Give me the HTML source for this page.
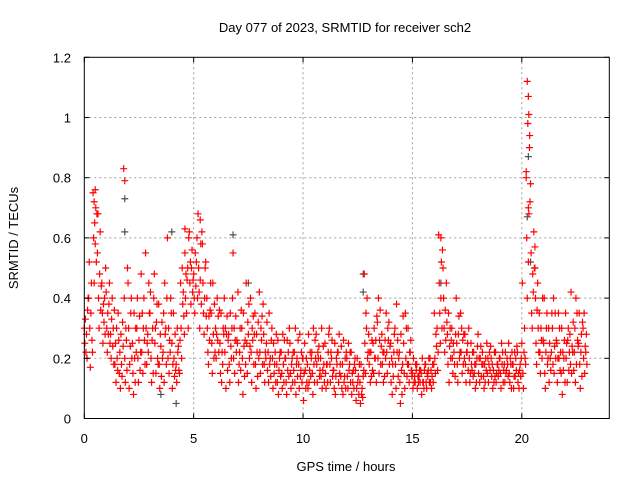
<!DOCTYPE html>
<html><head><meta charset="utf-8"><style>
body{margin:0;background:#fff;}
svg{display:block;font-family:"Liberation Sans",sans-serif;}
</style></head><body>
<svg id="chart" width="640" height="480" viewBox="0 0 640 480">
<rect width="640" height="480" fill="#fff"/>
<text x="345" y="32" font-size="13" text-anchor="middle">Day 077 of 2023, SRMTID for receiver sch2</text>
<text transform="translate(18,238) rotate(-90)" font-size="13" text-anchor="middle">SRMTID / TECUs</text>
<text x="346" y="471" font-size="13" text-anchor="middle">GPS time / hours</text>
<g id="grid"></g><g id="marks"></g><g id="axes"></g>
</svg>
<script>
const xTicks=[0,5,10,15,20];
const yTicks=[0,0.2,0.4,0.6,0.8,1,1.2];
const yTickLabels=["0","0.2","0.4","0.6","0.8","1","1.2"];
const hours=[0,0.2,0.4,0.6,0.8,1,1.2,1.4,1.6,1.8,2,2.2,2.4,2.6,2.8,3,3.2,3.4,3.6,3.8,4,4.2,4.4,4.6,4.8,5,5.2,5.4,5.6,5.8,6,6.2,6.4,6.6,6.8,7,7.2,7.4,7.6,7.8,8,8.2,8.4,8.6,8.8,9,9.2,9.4,9.6,9.8,10,10.2,10.4,10.6,10.8,11,11.2,11.4,11.6,11.8,12,12.2,12.4,12.6,12.8,13,13.2,13.4,13.6,13.8,14,14.2,14.4,14.6,14.8,15,15.2,15.4,15.6,15.8,16,16.2,16.4,16.6,16.8,17,17.2,17.4,17.6,17.8,18,18.2,18.4,18.6,18.8,19,19.2,19.4,19.6,19.8,20,20.2,20.4,20.6,20.8,21,21.2,21.4,21.6,21.8,22,22.2,22.4,22.6,22.8];
const tecA=[.30,.40,.75,.55,.45,.42,.28,.18,.15,.83,.45,.25,.30,.48,.55,.35,.48,.38,.22,.60,.25,.18,.45,.55,.62,.48,.68,.58,.40,.35,.30,.25,.40,.28,.55,.25,.30,.45,.40,.35,.42,.28,.22,.20,.18,.22,.20,.25,.22,.18,.20,.18,.22,.28,.20,.25,.30,.16,.22,.18,.20,.22,.16,.12,.48,.28,.25,.32,.28,.35,.25,.30,.22,.25,.30,.15,.18,.15,.18,.20,.35,.61,.50,.28,.30,.40,.35,.28,.20,.22,.28,.22,.25,.20,.22,.20,.18,.25,.18,.22,.25,.80,.78,.50,.35,.25,.20,.30,.25,.15,.35,.28,.22,.25,.30];
const tecB=[.25,.52,.60,.68,.35,.30,.20,.25,.22,.40,.30,.15,.40,.22,.30,.42,.25,.18,.35,.20,.10,.12,.30,.40,.45,.40,.50,.45,.30,.25,.20,.15,.22,.18,.20,.42,.20,.25,.22,.18,.22,.18,.12,.10,.12,.15,.12,.15,.12,.10,.06,.10,.15,.18,.14,.15,.18,.10,.12,.08,.14,.08,.06,.05,.25,.18,.15,.20,.18,.22,.12,.18,.12,.15,.18,.10,.10,.08,.12,.12,.20,.45,.40,.18,.20,.25,.22,.18,.12,.15,.15,.18,.15,.14,.12,.15,.12,.15,.10,.12,.45,.60,.55,.40,.22,.40,.30,.18,.12,.30,.20,.18,.30,.35,.20];
const tecC=[.33,.30,.45,.40,.25,.22,.33,.12,.10,.20,.10,.08,.20,.35,.18,.20,.30,.10,.12,.30,.18,.30,.20,.48,.52,.35,.42,.35,.22,.15,.28,.35,.30,.12,.30,.12,.08,.15,.12,.10,.15,.12,.35,.25,.26,.10,.08,.10,.30,.28,.15,.28,.08,.12,.30,.10,.12,.25,.28,.26,.10,.15,.10,.18,.15,.22,.30,.40,.22,.15,.20,.10,.05,.10,.12,.20,.14,.20,.10,.16,.15,.35,.30,.35,.15,.18,.30,.12,.15,.18,.20,.14,.20,.18,.15,.10,.22,.12,.14,.15,.15,.40,.35,.25,.15,.15,.12,.40,.20,.08,.25,.42,.12,.18,.35];
const tecD=[.22,.17,.65,.30,.38,.35,.40,.30,.28,.12,.18,.35,.12,.15,.25,.12,.15,.28,.45,.15,.35,.22,.50,.35,.38,.55,.30,.28,.18,.45,.40,.12,.10,.35,.15,.18,.35,.32,.30,.28,.30,.22,.18,.15,.08,.28,.26,.18,.08,.14,.25,.12,.30,.22,.10,.18,.22,.08,.15,.12,.25,.12,.20,.08,.35,.12,.20,.15,.12,.30,.08,.38,.28,.35,.22,.12,.12,.12,.15,.10,.28,.25,.22,.12,.25,.12,.15,.22,.25,.10,.12,.10,.12,.10,.18,.25,.15,.20,.22,.10,.10,.98,.30,.18,.30,.10,.25,.15,.35,.22,.12,.15,.40,.10,.15];
const tecE=[.28,.35,.58,.48,.32,.28,.24,.20,.18,.30,.24,.20,.26,.30,.28,.26,.32,.24,.28,.26,.20,.24,.38,.46,.50,.44,.46,.40,.34,.28,.26,.22,.28,.24,.26,.22,.24,.28,.26,.22,.26,.20,.20,.18,.16,.18,.16,.20,.18,.16,.16,.16,.18,.20,.16,.18,.20,.14,.18,.14,.16,.16,.12,.10,.30,.22,.20,.26,.22,.26,.18,.22,.16,.20,.22,.14,.14,.12,.14,.14,.24,.40,.36,.24,.22,.28,.26,.22,.18,.18,.20,.18,.18,.16,.18,.18,.16,.18,.14,.16,.22,.52,.48,.36,.26,.22,.20,.24,.20,.16,.26,.24,.18,.22,.24];
const tecF=[.20,.45,.70,.62,.40,.38,.30,.16,.14,.26,.35,.12,.34,.40,.22,.30,.38,.14,.30,.22,.14,.16,.42,.50,.56,.52,.58,.50,.26,.20,.34,.18,.34,.20,.34,.30,.14,.38,.34,.14,.34,.25,.14,.22,.20,.12,.22,.12,.20,.22,.10,.22,.12,.24,.24,.12,.26,.20,.14,.20,.18,.10,.14,.07,.40,.14,.26,.36,.14,.32,.14,.26,.08,.30,.26,.12,.16,.10,.16,.18,.30,.52,.26,.30,.18,.34,.18,.25,.16,.12,.24,.12,.22,.12,.14,.22,.20,.10,.20,.18,.30,.68,.42,.45,.20,.30,.16,.35,.30,.20,.30,.22,.35,.28,.22];
const tecG=[.36,.26,.52,.36,.28,.45,.18,.35,.32,.16,.40,.30,.16,.26,.45,.15,.20,.32,.18,.40,.28,.15,.34,.30,.42,.60,.38,.52,.36,.38,.22,.30,.16,.30,.22,.16,.26,.20,.18,.32,.18,.32,.26,.12,.22,.26,.14,.22,.14,.12,.20,.14,.26,.14,.18,.22,.14,.18,.24,.10,.22,.18,.08,.14,.20,.26,.12,.18,.26,.18,.22,.14,.18,.14,.16,.18,.12,.16,.20,.12,.16,.30,.45,.20,.14,.20,.28,.16,.22,.20,.14,.20,.16,.22,.16,.12,.18,.22,.16,.14,.20,.90,.62,.30,.40,.35,.22,.20,.16,.26,.16,.32,.26,.14,.28];
const tecH=[.40,.22,.68,.44,.50,.25,.36,.26,.24,.50,.20,.22,.22,.18,.35,.40,.18,.20,.40,.35,.16,.26,.28,.60,.46,.40,.62,.34,.45,.22,.36,.28,.26,.40,.26,.36,.18,.24,.28,.20,.38,.16,.30,.28,.14,.20,.30,.16,.26,.20,.12,.20,.20,.16,.12,.28,.16,.22,.10,.22,.12,.20,.18,.16,.22,.16,.34,.24,.20,.24,.28,.20,.34,.18,.14,.16,.16,.18,.12,.18,.22,.56,.32,.26,.28,.22,.20,.30,.14,.24,.18,.16,.24,.14,.20,.16,.14,.18,.24,.20,.18,.72,.50,.22,.26,.18,.35,.26,.22,.12,.22,.16,.24,.32,.18];
const extraHours=[20.25,20.3,20.32,20.36,0.5,1.85,20.3,5.3,4.6,16.3,20.6,0.45,20.2];
const extraTec=[1.12,1.07,1.01,0.94,0.76,0.79,0.70,0.66,0.63,0.60,0.57,0.72,0.82];
const refHours=[1.85,1.85,20.3,20.25,6.8,4.0,12.75,12.75,16.3,4.2,3.5,20.4,7.5];
const refTec=[0.73,0.62,0.87,0.67,0.61,0.62,0.48,0.42,0.45,0.05,0.08,0.52,0.45];

const X0=84.3,X1=609.3,Y0=418.5,Y1=57.3;
const xs=h=>X0+(h/24)*(X1-X0);
const ys=v=>Y0-(v/1.2)*(Y0-Y1);
const NS="http://www.w3.org/2000/svg";
function mk(tag,attrs,parent){const e=document.createElementNS(NS,tag);for(const k in attrs)e.setAttribute(k,attrs[k]);parent.appendChild(e);return e;}
const grid=document.getElementById('grid'),marks=document.getElementById('marks'),axes=document.getElementById('axes');
xTicks.forEach(t=>{
  if(t>0){const g=mk('line',{x1:xs(t),x2:xs(t),y1:Y1,y2:Y0,stroke:'#a0a0a0','stroke-dasharray':'2,3'},grid);
  
  }
  const l=mk('text',{x:xs(t),y:443,'font-size':13,'text-anchor':'middle'},axes);l.textContent=String(t);
  
  
  mk('line',{x1:xs(t),x2:xs(t),y1:Y0,y2:Y0-5,stroke:'#000'},axes);
  mk('line',{x1:xs(t),x2:xs(t),y1:Y1,y2:Y1+5,stroke:'#000'},axes);
});
yTicks.forEach((t,i)=>{
  if(t>0&&t<1.2){const g=mk('line',{x1:X0,x2:X1,y1:ys(t),y2:ys(t),stroke:'#a0a0a0','stroke-dasharray':'2,3'},grid);
  
  }
  const l=mk('text',{x:71,y:ys(t)+5,'font-size':13,'text-anchor':'end'},axes);l.textContent=yTickLabels[i];
  
  
  mk('line',{x1:X0,x2:X0+5,y1:ys(t),y2:ys(t),stroke:'#000'},axes);
  mk('line',{x1:X1,x2:X1-5,y1:ys(t),y2:ys(t),stroke:'#000'},axes);
});
const border=mk('rect',{x:X0,y:Y1,width:X1-X0,height:Y0-Y1,fill:'none',stroke:'#000'},axes);


function cross(h,v,color,name){
  const x=xs(h),y=ys(v);
  const p=mk('path',{d:`M${x-3.5},${y}H${x+3.5}M${x},${y-3.5}V${y+3.5}`,stroke:color,'stroke-width':1.2,fill:'none'},marks);
  
  
}
refHours.forEach((h,i)=>cross(h,refTec[i],'#505050','reference-point'));
[tecA,tecB,tecC,tecD,tecE,tecF,tecG,tecH].forEach((arr,k)=>{
  hours.forEach((h,i)=>cross(h+k*0.025,arr[i],'#ff0000','srmtid-point'));
});
extraHours.forEach((h,i)=>cross(h,extraTec[i],'#ff0000','srmtid-point'));
</script>
</body></html>
